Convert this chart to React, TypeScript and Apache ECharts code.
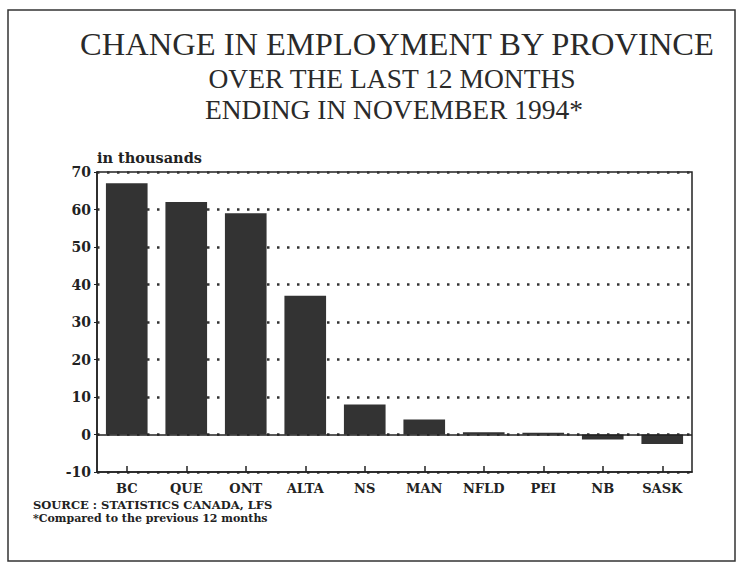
import React, { useEffect, useRef } from "react";
import * as echarts from "echarts";

const categories = ["BC", "QUE", "ONT", "ALTA", "NS", "MAN", "NFLD", "PEI", "NB", "SASK"];
const values = [67, 62, 59, 37, 8, 4, 0.6, 0.5, -1.3, -2.5];
const titleLines = [
  "CHANGE IN EMPLOYMENT BY PROVINCE",
  "OVER THE LAST 12 MONTHS",
  "ENDING IN NOVEMBER 1994*",
];
const footnotes = ["SOURCE : STATISTICS CANADA, LFS", "*Compared to the previous 12 months"];
const unitLabel = "in thousands";

export default function App() {
  const ref = useRef<HTMLDivElement>(null);
  useEffect(() => {
    if (!ref.current) return;
    const chart = echarts.init(ref.current, null, { renderer: "svg" });
    const serif = "'Liberation Serif', 'DejaVu Serif', serif";
    const boldSerif = "'DejaVu Serif', 'Liberation Serif', serif";
    chart.setOption({
      animation: false,
      backgroundColor: "#ffffff",
      grid: {
        left: 97,
        right: 48,
        top: 172,
        bottom: 96,
        show: true,
        borderColor: "#222",
        borderWidth: 1.5,
        backgroundColor: "transparent",
      },
      graphic: [
        {
          type: "rect",
          shape: { x: 8, y: 10, width: 727, height: 551 },
          style: { fill: "none", stroke: "#333", lineWidth: 1.5 },
          silent: true,
        },
        {
          type: "text",
          x: 397,
          y: 44,
          style: {
            text: titleLines[0],
            font: `32.5px ${serif}`,
            fill: "#2a2a2a",
            align: "center",
            verticalAlign: "middle",
          },
        },
        {
          type: "text",
          x: 392,
          y: 78,
          style: {
            text: titleLines[1],
            font: `27.5px ${serif}`,
            fill: "#2a2a2a",
            align: "center",
            verticalAlign: "middle",
          },
        },
        {
          type: "text",
          x: 394,
          y: 109,
          style: {
            text: titleLines[2],
            font: `27.5px ${serif}`,
            fill: "#2a2a2a",
            align: "center",
            verticalAlign: "middle",
          },
        },
        {
          type: "text",
          x: 97,
          y: 157,
          style: {
            text: unitLabel,
            font: `bold 14.5px ${boldSerif}`,
            fill: "#222",
            align: "left",
            verticalAlign: "middle",
          },
        },
        {
          type: "text",
          x: 33,
          y: 505,
          style: {
            text: footnotes[0],
            font: `bold 11.5px ${boldSerif}`,
            fill: "#222",
            align: "left",
            verticalAlign: "middle",
          },
        },
        {
          type: "text",
          x: 33,
          y: 518,
          style: {
            text: footnotes[1],
            font: `bold 11px ${boldSerif}`,
            fill: "#222",
            align: "left",
            verticalAlign: "middle",
          },
        },
      ],
      xAxis: {
        type: "category",
        data: categories,
        position: "bottom",
        axisLine: { onZero: false, lineStyle: { color: "#222", width: 1.5 } },
        axisTick: {
          show: true,
          inside: true,
          alignWithLabel: true,
          length: 6,
          lineStyle: { color: "#222", width: 1.5 },
        },
        axisLabel: {
          color: "#222",
          fontFamily: boldSerif,
          fontWeight: "bold",
          fontSize: 13,
          margin: 10,
        },
        splitLine: { show: false },
      },
      yAxis: {
        type: "value",
        min: -10,
        max: 70,
        interval: 10,
        axisLine: { show: true, lineStyle: { color: "#222", width: 1.5 } },
        axisTick: { show: true, inside: false, length: 3, lineStyle: { color: "#222" } },
        axisLabel: {
          color: "#222",
          fontFamily: boldSerif,
          fontWeight: "bold",
          fontSize: 14,
          margin: 6,
        },
        splitLine: {
          show: true,
          lineStyle: { color: "#333", type: [2.5, 7.5], width: 2.5 },
        },
      },
      series: [
        {
          type: "bar",
          data: values,
          barCategoryGap: "30%",
          itemStyle: { color: "#333" },
          markLine: {
            silent: true,
            symbol: "none",
            label: { show: false },
            lineStyle: { color: "#222", type: "solid", width: 1.5 },
            data: [{ yAxis: 0 }],
          },
        },
      ],
    });
    return () => chart.dispose();
  }, []);
  return (
    <div
      ref={ref}
      style={{ position: "fixed", left: 0, top: 0, width: 740, height: 568 }}
    />
  );
}
